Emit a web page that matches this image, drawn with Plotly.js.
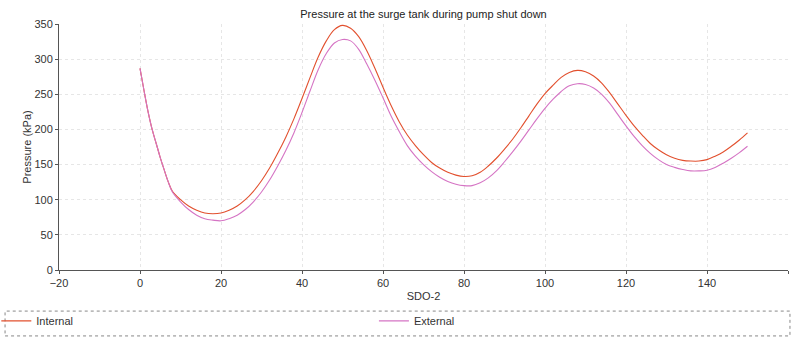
<!DOCTYPE html>
<html>
<head>
<meta charset="utf-8">
<script src="https://cdn.plot.ly/plotly-3.0.1.min.js"></script>
<style>html,body{margin:0;padding:0;background:#fff;}#chart{width:793px;height:338px;}</style>
</head>
<body>
<div id="chart"></div>
<script>
var timeX = [0,1,2,3,4,5,6,7,8,10,12,14,16,18,20,22,24,26,28,30,32,34,36,38,40,42,44,46,48,50,52,54,56,58,60,62,64,66,68,70,72,74,76,78,80,82,84,86,88,90,92,94,96,98,100,102,104,106,108,110,112,114,116,118,120,122,124,126,128,130,132,134,136,138,140,142,144,146,148,150];
var internalP = [287,255,225,200,180,160,142,125,112,100,91,85,81,80,81,85,91,100,112,127,145,166,189,215,244,274,303,326,342,348,344,332,312,287,260,234,211,192,177,164,153,145,139,135,133,134,139,148,159,172,186,202,219,236,251,263,274,281,284,282,276,266,252,236,220,205,192,180,171,164,159,156,155,155,157,162,168,176,185,195];
var externalP = [287,255,225,200,180,160,142,125,111,97,86,78,73,71,70,73,78,86,97,111,128,148,170,195,224,255,285,308,323,328,326,314,293,270,245,219,197,177,162,150,140,132,126,122,120,120,124,131,141,154,168,183,199,215,230,243,254,262,265,264,259,250,237,221,205,190,177,166,157,150,146,143,141,141,142,146,152,159,167,176];
var seriesNames = ["Internal", "External"];
var chartTitle = "Pressure at the surge tank during pump shut down";
var xTitle = "SDO-2";
var yTitle = "Pressure (kPa)";

var traces = [
  {x: timeX, y: internalP, name: seriesNames[0], legend: 'legend', type: 'scatter', mode: 'lines', line: {color: '#e2502e', width: 1.1, shape: 'spline', smoothing: 1}},
  {x: timeX, y: externalP, name: seriesNames[1], legend: 'legend2', type: 'scatter', mode: 'lines', line: {color: '#d574c4', width: 1.1, shape: 'spline', smoothing: 1}}
];

var fam = 'Liberation Sans, Arial, sans-serif';
var axisFont = {family: fam, size: 11, color: '#333'};
var legFont = {family: fam, size: 11, color: '#333'};
var layout = {
  width: 793, height: 338,
  margin: {l: 59, r: 5, t: 24, b: 68, autoexpand: false},
  paper_bgcolor: '#fff', plot_bgcolor: '#fff',
  font: axisFont,
  title: {text: chartTitle, x: 0.5, xref: 'paper', y: 0.958, yanchor: 'middle', font: {family: fam, size: 11, color: '#222'}},
  xaxis: {
    range: [-20, 160], dtick: 20, tick0: 0,
    showgrid: true, gridcolor: '#e6e6e6', griddash: 'dot', gridwidth: 1,
    showline: true, linecolor: '#555', linewidth: 1,
    ticks: 'outside', ticklen: 3, tickcolor: '#555',
    zeroline: false, automargin: true,
    tickfont: axisFont,
    title: {text: xTitle, font: {family: fam, size: 11, color: '#333'}, standoff: 4}
  },
  yaxis: {
    range: [0, 350], dtick: 50,
    showgrid: true, gridcolor: '#e6e6e6', griddash: 'dot', gridwidth: 1,
    showline: true, linecolor: '#555', linewidth: 1,
    ticks: 'outside', ticklen: 3, tickcolor: '#555',
    zeroline: false, automargin: true,
    tickfont: axisFont,
    title: {text: yTitle, font: {family: fam, size: 11, color: '#333'}, standoff: 0}
  },
  showlegend: true,
  legend: {
    orientation: 'h', x: -0.086, xanchor: 'left', y: -0.207, yanchor: 'middle',
    font: legFont, bgcolor: 'rgba(0,0,0,0)', borderwidth: 0
  },
  legend2: {
    orientation: 'h', x: 0.432, xanchor: 'left', y: -0.207, yanchor: 'middle',
    font: legFont, bgcolor: 'rgba(0,0,0,0)', borderwidth: 0
  },
  shapes: [
    {type: 'rect', xref: 'paper', yref: 'paper', x0: -0.074, x1: 1.0027, y0: -0.268, y1: -0.167,
     line: {color: '#888', width: 1, dash: 'dot'}}
  ]
};

Plotly.newPlot('chart', traces, layout, {staticPlot: true, displayModeBar: false});
</script>
</body>
</html>
